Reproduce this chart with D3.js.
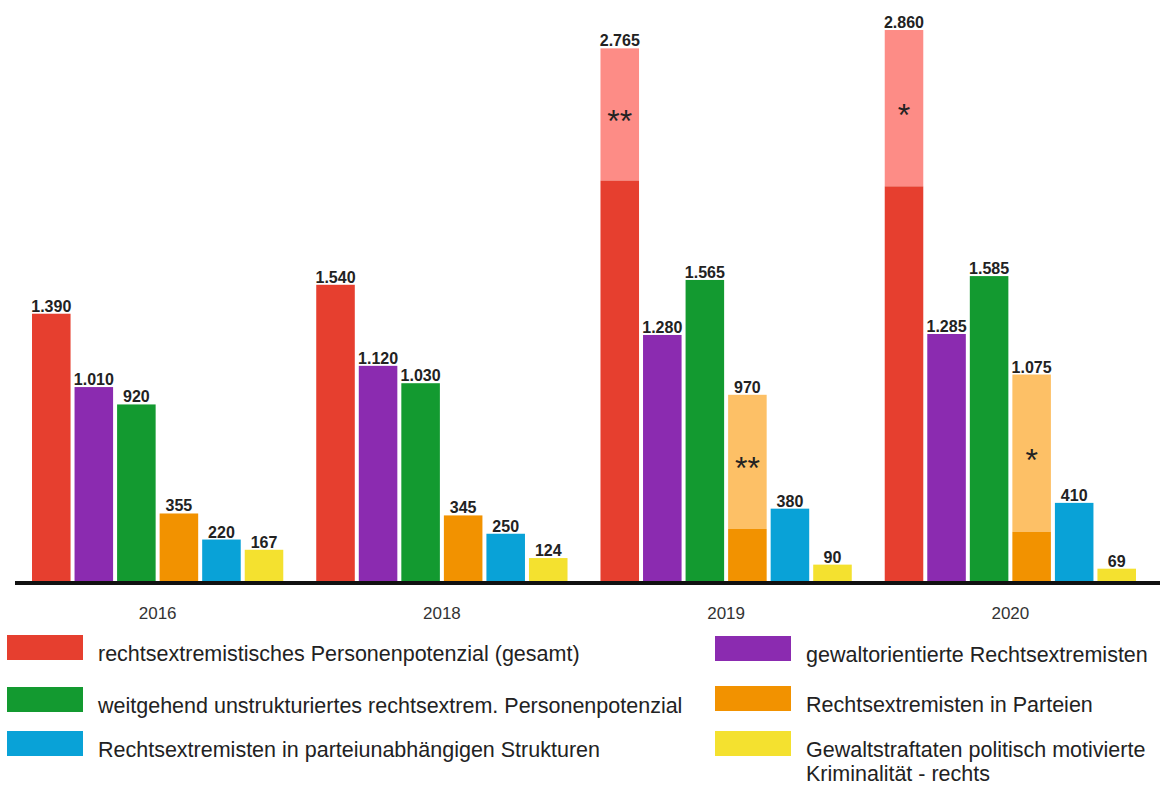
<!DOCTYPE html>
<html><head><meta charset="utf-8">
<script src="https://cdn.jsdelivr.net/npm/d3@7"></script>
<style>html,body{margin:0;padding:0;background:#fff;}svg{display:block;}</style>
</head><body>
<svg id="chart" width="1163" height="785"></svg>
<script>
const years = ["2016", "2018", "2019", "2020"];
const seriesNames = [
  "rechtsextremistisches Personenpotenzial (gesamt)",
  "gewaltorientierte Rechtsextremisten",
  "weitgehend unstrukturiertes rechtsextrem. Personenpotenzial",
  "Rechtsextremisten in Parteien",
  "Rechtsextremisten in parteiunabhängigen Strukturen",
  "Gewaltstraftaten politisch motivierte Kriminalität - rechts"
];
const gesamt      = [1390, 1540, 2765, 2860];
const gewalt      = [1010, 1120, 1280, 1285];
const unstrukt    = [920, 1030, 1565, 1585];
const parteien    = [355, 345, 970, 1075];
const unabhaengig = [220, 250, 380, 410];
const straftaten  = [167, 124, 90, 69];
// lower (darker) part of split bars
const gesamtBase   = [null, null, 2080, 2050];
const parteienBase = [null, null, 275, 260];
const gesamtMark   = ["", "", "**", "*"];
const parteienMark = ["", "", "**", "*"];

const seriesValues = [gesamt, gewalt, unstrukt, parteien, unabhaengig, straftaten];
const colors = ["#e63f2f", "#8b2bb0", "#139a30", "#f29200", "#09a2d7", "#f4e12f"];
const lightColors = {0: "#fd8c86", 3: "#fdc066"};
const bases = {0: gesamtBase, 3: parteienBase};
const marks = {0: gesamtMark, 3: parteienMark};

const svg = d3.select("#chart");
const baseY = 582;
const y = d3.scaleLinear().domain([0, 3000]).range([baseY, baseY - 579]);
const x0 = d3.scaleBand().domain(years).range([32, 1136]).paddingInner(0.116).paddingOuter(0);
const x1 = d3.scaleBand().domain(d3.range(6)).range([0, x0.bandwidth()]).paddingInner(0.094).paddingOuter(0);

const de = d3.formatLocale({decimal: ",", thousands: ".", grouping: [3], currency: ["", " €"]});
const fmt = de.format(",");

const rows = [];
years.forEach((yr, yi) => {
  seriesValues.forEach((vals, si) => {
    rows.push({yr, yi, si, v: vals[yi]});
  });
});

const g = svg.append("g");
rows.forEach(d => {
  const bx = x0(d.yr) + x1(d.si);
  const w = x1.bandwidth();
  const base = bases[d.si] ? bases[d.si][d.yi] : null;
  if (base != null) {
    g.append("rect").attr("x", bx).attr("width", w)
      .attr("y", y(d.v)).attr("height", y(base) - y(d.v)).attr("fill", lightColors[d.si]);
    g.append("rect").attr("x", bx).attr("width", w)
      .attr("y", y(base)).attr("height", baseY - y(base)).attr("fill", colors[d.si]);
    const mid = (y(d.v) + y(base)) / 2;
    g.append("text").attr("x", bx + w / 2).attr("y", mid + 0.55 * 32)
      .attr("text-anchor", "middle").attr("font-family", "Liberation Sans, Arial, sans-serif")
      .attr("font-size", 32).attr("fill", "#222").text(marks[d.si][d.yi]);
  } else {
    g.append("rect").attr("x", bx).attr("width", w)
      .attr("y", y(d.v)).attr("height", baseY - y(d.v)).attr("fill", colors[d.si]);
  }
  g.append("text").attr("x", bx + w / 2).attr("y", y(d.v) - 2)
    .attr("text-anchor", "middle").attr("font-family", "Liberation Sans, Arial, sans-serif")
    .attr("font-weight", "bold").attr("font-size", 16).attr("fill", "#222")
    .text(fmt(d.v));
});

// baseline
svg.append("line").attr("x1", 15).attr("x2", 1160).attr("y1", baseY + 1).attr("y2", baseY + 1)
  .attr("stroke", "#111").attr("stroke-width", 4);

// year labels via axis
const axis = svg.append("g").attr("transform", `translate(0,${baseY + 3})`)
  .call(d3.axisBottom(x0).tickSize(0).tickPadding(22));
axis.select(".domain").remove();
axis.selectAll("text").attr("font-family", "Liberation Sans, Arial, sans-serif")
  .attr("font-size", 17).attr("fill", "#333");

// legend
const legendPos = [
  {x: 7, y: 635}, {x: 715, y: 636},
  {x: 7, y: 687}, {x: 715, y: 686},
  {x: 7, y: 731}, {x: 715, y: 731}
];
const legendLines = [
  ["rechtsextremistisches Personenpotenzial (gesamt)"],
  ["gewaltorientierte Rechtsextremisten"],
  ["weitgehend unstrukturiertes rechtsextrem. Personenpotenzial"],
  ["Rechtsextremisten in Parteien"],
  ["Rechtsextremisten in parteiunabhängigen Strukturen"],
  ["Gewaltstraftaten politisch motivierte", "Kriminalität - rechts"]
];
const legend = svg.append("g");
seriesNames.forEach((name, i) => {
  const p = legendPos[i];
  legend.append("rect").attr("x", p.x).attr("y", p.y).attr("width", 76).attr("height", 25)
    .attr("fill", colors[i]);
  const t = legend.append("text").attr("x", p.x + 91).attr("y", p.y + 26)
    .attr("font-family", "Liberation Sans, Arial, sans-serif").attr("font-size", 21.5).attr("fill", "#222");
  legendLines[i].forEach((ln, li) => {
    t.append("tspan").attr("x", p.x + 91).attr("dy", li === 0 ? 0 : 24).text(ln);
  });
});
</script>
</body></html>
